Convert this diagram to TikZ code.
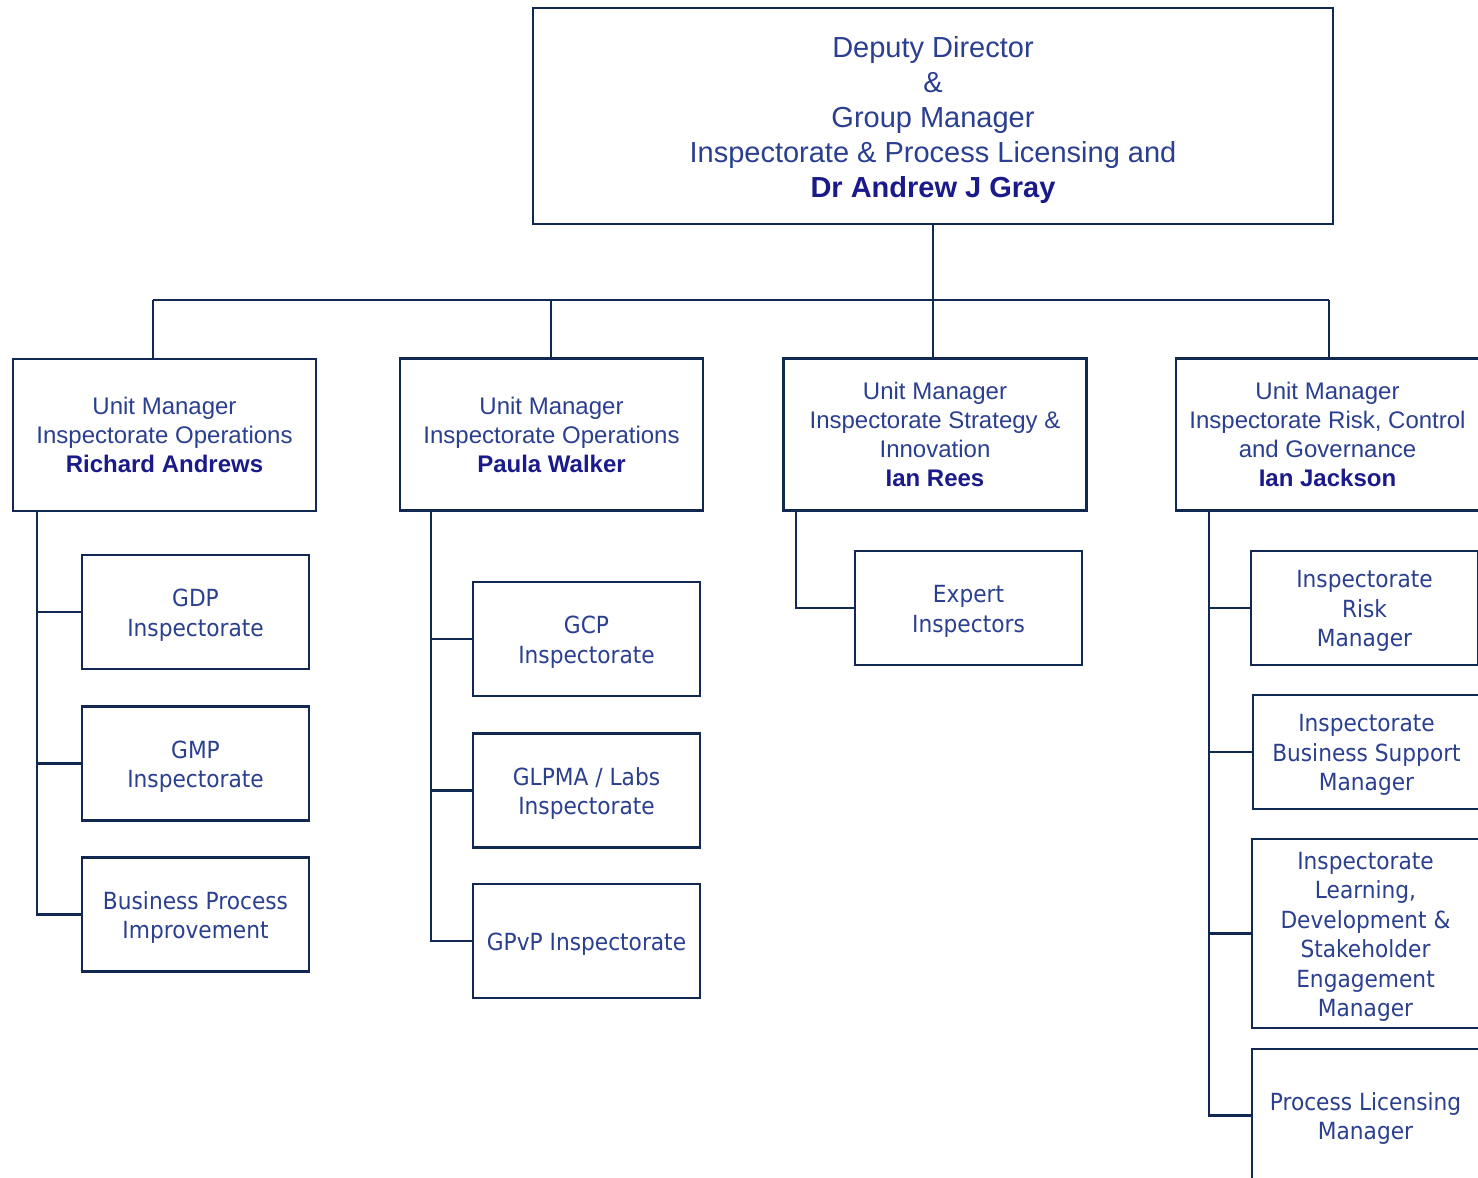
\documentclass[tikz,border=0pt]{standalone}
\usepackage{fontspec}
\setmainfont{Liberation Sans}
\newfontfamily\subfont[FakeStretch=0.92]{DejaVu Sans}
\definecolor{txt}{RGB}{42,63,143}
\definecolor{namec}{RGB}{26,26,138}
\definecolor{edgec}{RGB}{16,40,82}
\tikzset{
  box/.style={draw=edgec, line width=1.3pt, rectangle, inner sep=0pt, outer sep=0pt, align=center, text=txt},
  topbox/.style={box, minimum width=400pt, minimum height=108pt, font=\fontsize{14.5}{17.5}\selectfont},
  unitbox/.style={box, minimum width=151.5pt, minimum height=76pt, font=\fontsize{12}{14.5}\selectfont},
  subbox/.style={box, minimum width=113.5pt, minimum height=57pt, font=\subfont\fontsize{11.8}{14.75}\selectfont},
  conn/.style={draw=edgec, line width=1.3pt},
}
\newcommand{\pname}[1]{{\bfseries\color{namec}#1}}
\newcommand{\tstrut}{\rule{0pt}{14.5pt}}
\newcommand{\sstrut}{\rule{0pt}{11.8pt}}
\begin{document}
\begin{tikzpicture}[x=0.5pt, y=-0.5pt]
\useasboundingbox (0,0) rectangle (1478,1178);
\clip (0,0) rectangle (1478,1178);
\fill[white] (0,0) rectangle (1478,1178);

% top
\node[topbox] (top) at (933,116) {\tstrut Deputy Director\\ \&\\ Group Manager\\ Inspectorate \& Process Licensing and\\ \pname{Dr Andrew J Gray}};

% unit managers
\node[unitbox] (u1) at (164.5,435) {Unit Manager\\ Inspectorate Operations\\ \pname{Richard Andrews}};
\node[unitbox] (u2) at (551.5,434.5) {Unit Manager\\ Inspectorate Operations\\ \pname{Paula Walker}};
\node[unitbox] (u3) at (935,434.5) {Unit Manager\\ Inspectorate Strategy \&\\ Innovation\\ \pname{Ian Rees}};
\node[unitbox] (u4) at (1327.5,434.5) {Unit Manager\\ Inspectorate Risk, Control\\ and Governance\\ \pname{Ian Jackson}};

% sub boxes column 1
\node[subbox] (a1) at (195.5,612) {\sstrut GDP\\ Inspectorate};
\node[subbox] (a2) at (195.5,763.5) {\sstrut GMP\\ Inspectorate};
\node[subbox] (a3) at (195.5,914.5) {\sstrut Business Process\\ Improvement};

% column 2
\node[subbox] (b1) at (586.5,639) {\sstrut GCP\\ Inspectorate};
\node[subbox] (b2) at (586.5,790.5) {\sstrut GLPMA / Labs\\ Inspectorate};
\node[subbox] (b3) at (586.5,941) {\sstrut GPvP Inspectorate};

% column 3
\node[subbox] (c1) at (968.5,608) {\sstrut Expert\\ Inspectors};

% column 4
\node[subbox] (d1) at (1364.5,608) {\sstrut Inspectorate\\ Risk\\ Manager};
\node[subbox] (d2) at (1366.5,752) {\sstrut Inspectorate\\ Business Support\\ Manager};
\node[subbox, minimum height=94.5pt] (d3) at (1365.5,933.5) {\sstrut Inspectorate\\ Learning,\\ Development \&\\ Stakeholder\\ Engagement\\ Manager};
\node[subbox, minimum height=66.5pt] (d4) at (1365.5,1115.5) {\sstrut Process Licensing\\ Manager};

% bus
\coordinate (bus) at (933,300);
\coordinate (k1) at (153,300);
\coordinate (k2) at (551,300);
\coordinate (k4) at (1329,300);
\draw[conn] (top.south) -- (bus);
\draw[conn] (k1) -- (k4);
\draw[conn] (k1) -- (k1 |- u1.north);
\draw[conn] (k2) -- (k2 |- u2.north);
\draw[conn] (bus) -- (bus |- u3.north);
\draw[conn] (k4) -- (k4 |- u4.north);

% trunks
\coordinate (t1) at (37,0);
\coordinate (t2) at (431,0);
\coordinate (t3) at (796,0);
\coordinate (t4) at (1209,0);
\draw[conn] (t1 |- u1.south) -- (t1 |- a3.west) -- (a3.west);
\draw[conn] (t1 |- a1.west) -- (a1.west);
\draw[conn] (t1 |- a2.west) -- (a2.west);
\draw[conn] (t2 |- u2.south) -- (t2 |- b3.west) -- (b3.west);
\draw[conn] (t2 |- b1.west) -- (b1.west);
\draw[conn] (t2 |- b2.west) -- (b2.west);
\draw[conn] (t3 |- u3.south) -- (t3 |- c1.west) -- (c1.west);
\draw[conn] (t4 |- u4.south) -- (t4 |- d4.west) -- (d4.west);
\draw[conn] (t4 |- d1.west) -- (d1.west);
\draw[conn] (t4 |- d2.west) -- (d2.west);
\draw[conn] (t4 |- d3.west) -- (d3.west);
\end{tikzpicture}
\end{document}
